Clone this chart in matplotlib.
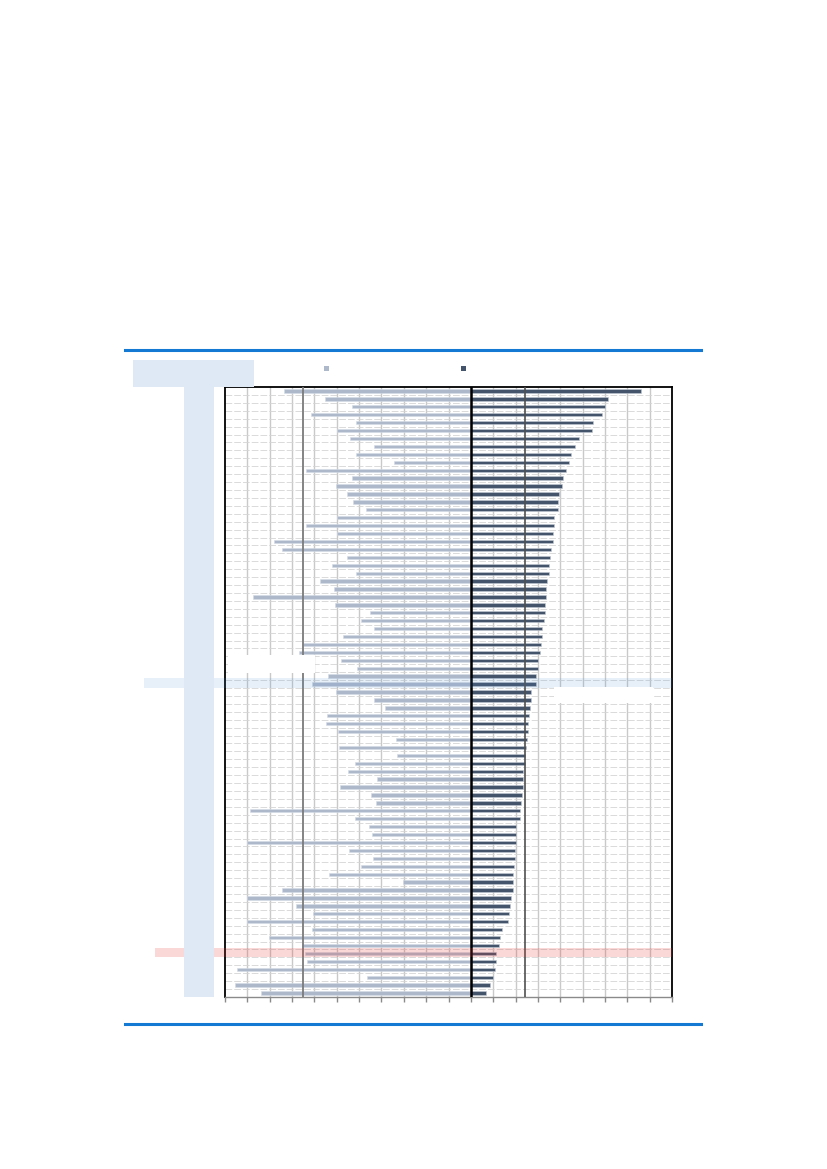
import matplotlib
matplotlib.use('Agg')
import matplotlib.pyplot as plt
import matplotlib.transforms as mtransforms
from matplotlib.patches import Rectangle
from matplotlib.lines import Line2D
import numpy as np

# values (one tick = 5 units)
neg_values = [-41.8, -32.6, -26.6, -35.8, -25.7, -30.0, -27.0, -21.6, -25.8, -17.2,
              -36.9, -26.7, -30.2, -27.8, -26.3, -23.5, -30.0, -36.8, -29.9, -44.0,
              -42.2, -27.8, -31.0, -25.7, -33.8, -30.7, -48.7, -30.4, -22.5, -24.5,
              -21.6, -28.6, -37.6, -38.5, -29.1, -25.5, -31.9, -35.5, -30.2, -21.6,
              -19.2, -32.2, -32.4, -29.8, -16.8, -29.5, -16.6, -26.0, -27.4, -21.1,
              -29.2, -22.3, -21.2, -49.5, -25.9, -22.8, -22.2, -50.0, -27.2, -21.9,
              -24.6, -31.8, -15.1, -42.2, -50.0, -39.2, -35.3, -50.0, -35.5, -45.1,
              -37.7, -37.2, -36.6, -52.4, -23.2, -52.8, -46.9]
pos_values = [38.1, 30.7, 29.9, 29.4, 27.4, 27.0, 24.3, 23.3, 22.5, 21.9,
              21.3, 20.7, 20.4, 19.7, 19.6, 19.4, 18.7, 18.6, 18.4, 18.4,
              17.9, 17.8, 17.5, 17.5, 17.0, 16.8, 16.8, 16.6, 16.6, 16.4,
              16.0, 15.9, 15.7, 15.4, 15.1, 15.1, 14.5, 14.5, 13.5, 13.4,
              13.3, 13.0, 12.8, 12.8, 12.5, 12.4, 12.1, 12.1, 11.7, 11.7,
              11.6, 11.4, 11.3, 11.0, 11.0, 10.2, 10.2, 10.0, 9.8, 9.8,
              9.6, 9.4, 9.4, 9.4, 8.9, 8.7, 8.6, 8.3, 6.9, 6.6,
              6.4, 5.7, 5.7, 5.5, 5.0, 4.3, 3.5]
neg_avg = -37.6
pos_avg = 12.1
x_ticks = list(range(-55, 50, 5))
blue_row = 37
red_row = 71

LIGHT = '#adb9ca'
DARK = '#44546a'
PALE = '#dfe9f5'
LINE_BLUE = '#1479d2'

W, H = 827, 1169
def fx(px):
    return px / W
def fy(py):
    return 1 - py / H

fig = plt.figure(figsize=(8.27, 11.69), dpi=100)

# header / footer rules and pale boxes
fig.add_artist(Line2D([fx(125), fx(701)], [fy(350), fy(350)], color=LINE_BLUE, lw=2.2))
fig.add_artist(Line2D([fx(125), fx(701)], [fy(1024), fy(1024)], color=LINE_BLUE, lw=2.2))
fig.add_artist(Rectangle((fx(133), fy(387)), fx(254) - fx(133), fy(360) - fy(387),
                         transform=fig.transFigure, color=PALE, lw=0))
fig.add_artist(Rectangle((fx(184), fy(997)), fx(214) - fx(184), fy(387) - fy(997),
                         transform=fig.transFigure, color=PALE, lw=0))
# legend squares
fig.add_artist(Rectangle((fx(324), fy(370.5)), fx(5), 5 / H, transform=fig.transFigure,
                         color=LIGHT, lw=0))
fig.add_artist(Rectangle((fx(461), fy(370.5)), fx(5), 5 / H, transform=fig.transFigure,
                         color=DARK, lw=0))

ax = fig.add_axes([fx(225), fy(997), fx(672) - fx(225), fy(387) - fy(997)])
rows = np.arange(len(pos_values))

ax.barh(rows, neg_values, height=0.42, color=LIGHT, edgecolor='#d5dbe4', linewidth=0.4, zorder=3)
ax.barh(rows, pos_values, height=0.42, color=DARK, edgecolor='#c3cad5', linewidth=0.4, zorder=3)

ax.set_xlim(x_ticks[0], x_ticks[-1])
ax.set_ylim(len(rows) - 0.5, -0.5)
ax.set_xticks(x_ticks)
ax.set_xticklabels([])
ax.set_yticks([])
ax.tick_params(axis='x', length=3.5, color='#8a8a8a', direction='out', width=1)

for t in x_ticks[1:-1]:
    ax.axvline(t, color='#c9c9c9', lw=1.0, zorder=1)
for r in rows[:-1]:
    ax.axhline(r + 0.5, color='#d4d4d4', lw=0.6, linestyle=(0, (8, 2.5)), zorder=1)

ax.axvline(0, color='black', lw=1.8, zorder=4)
ax.axvline(neg_avg, color='#7a7a7a', lw=1.3, zorder=4)
ax.axvline(pos_avg, color='#505050', lw=1.2, zorder=4)

for side in ['top', 'left', 'right']:
    ax.spines[side].set_color('black')
    ax.spines[side].set_linewidth(1.3)
ax.spines['bottom'].set_color('#8a8a8a')
ax.spines['bottom'].set_linewidth(1.0)

# highlighted rows
bt = mtransforms.blended_transform_factory(fig.transFigure, ax.transData)
ax.add_patch(Rectangle((fx(144), blue_row - 0.75), fx(672) - fx(144), 1.3, transform=bt,
                       color='#4a8ad4', alpha=0.13, lw=0, clip_on=False, zorder=5))
ax.add_patch(Rectangle((fx(155), red_row - 0.65), fx(672) - fx(155), 1.15, transform=bt,
                       color='#e63c3c', alpha=0.2, lw=0, clip_on=False, zorder=5))

# blank label boxes
fig.add_artist(Rectangle((fx(228), fy(673)), fx(315) - fx(228), fy(655) - fy(673),
                         transform=fig.transFigure, color='white', lw=0, zorder=10))
fig.add_artist(Rectangle((fx(554), fy(703)), fx(653) - fx(554), fy(687) - fy(703),
                         transform=fig.transFigure, color='white', lw=0, zorder=10))

fig.savefig('out.png', dpi=100)
